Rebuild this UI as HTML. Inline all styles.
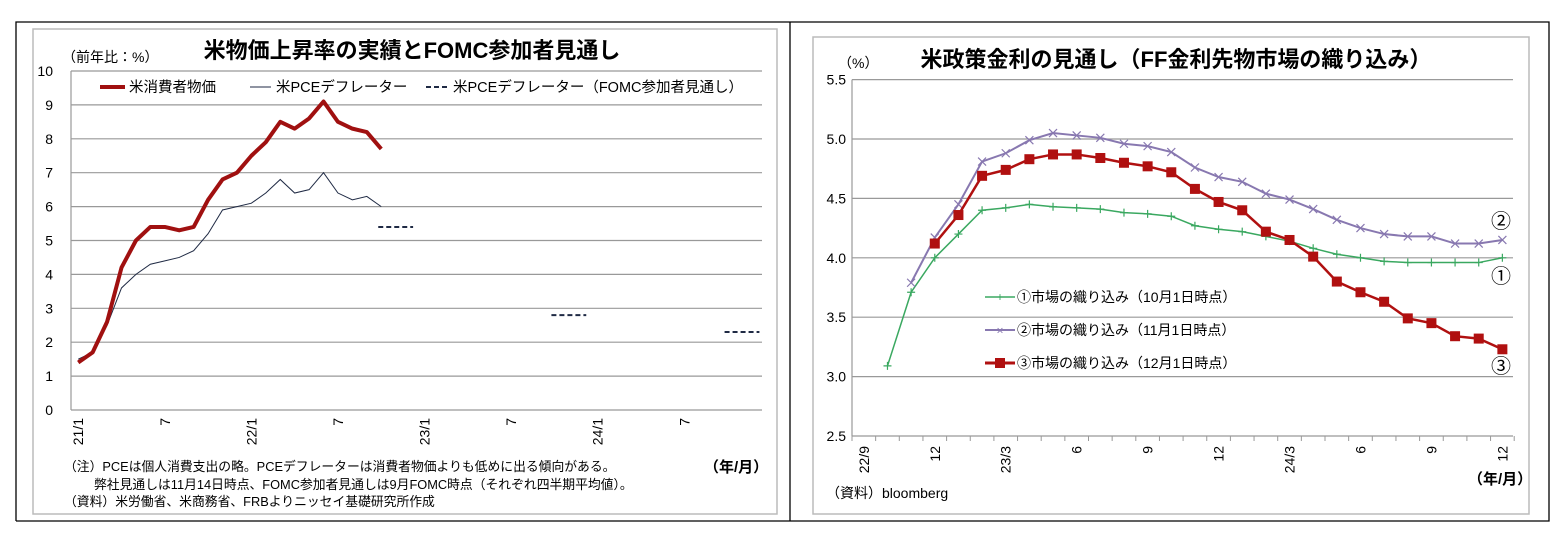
<!DOCTYPE html>
<html><head><meta charset="utf-8"><style>
body{margin:0;background:#fff}
svg{display:block;font-family:"Liberation Sans","Noto Sans CJK JP",sans-serif}
</style></head><body>
<svg id="s" width="1565" height="545" xmlns="http://www.w3.org/2000/svg">
<rect width="1565" height="545" fill="#fff"/>
<polyline points="16,521 16,22 1549,22 1549,521 16,521" fill="none" stroke="#000" stroke-width="1.3"/>
<line x1="790" y1="22" x2="790" y2="521" stroke="#000" stroke-width="1.3"/>
<rect x="33" y="29" width="744" height="485" fill="none" stroke="#bbb" stroke-width="1.5"/>
<rect x="813" y="37" width="716" height="477" fill="none" stroke="#bbb" stroke-width="1.5"/>

<g id="L"></g>
<text x="412" y="58" font-size="22" font-weight="bold" text-anchor="middle">米物価上昇率の実績とFOMC参加者見通し</text>
<text x="62" y="62" font-size="14">（前年比：%）</text>
<g font-size="14.5">
<line x1="100" y1="87" x2="125" y2="87" stroke="#a01010" stroke-width="4"/>
<text x="129" y="92">米消費者物価</text>
<line x1="250" y1="87" x2="271" y2="87" stroke="#1f2a44" stroke-width="1"/>
<text x="276" y="92">米PCEデフレーター</text>
<line x1="426" y1="87" x2="448" y2="87" stroke="#1f2a44" stroke-width="2" stroke-dasharray="5,3"/>
<text x="453" y="92">米PCEデフレーター（FOMC参加者見通し）</text>
</g>
<g font-size="12.8">
<text x="64" y="471">（注）PCEは個人消費支出の略。PCEデフレーターは消費者物価よりも低めに出る傾向がある。</text>
<text x="94" y="489">弊社見通しは11月14日時点、FOMC参加者見通しは9月FOMC時点（それぞれ四半期平均値）。</text>
<text x="64" y="506">（資料）米労働省、米商務省、FRBよりニッセイ基礎研究所作成</text>
</g>
<text x="704" y="472" font-size="15" font-weight="bold">（年/月）</text>

<g id="R"></g>
<text x="1176" y="67" font-size="22" font-weight="bold" text-anchor="middle">米政策金利の見通し（FF金利先物市場の織り込み）</text>
<text x="838" y="68" font-size="14">（%）</text>
<g font-size="14">
<line x1="985" y1="297" x2="1015" y2="297" stroke="#3aa860" stroke-width="1.5"/>
<text x="1000" y="301" font-size="12" text-anchor="middle" fill="#3aa860">+</text>
<text x="1017" y="302">①市場の織り込み（10月1日時点）</text>
<line x1="985" y1="330" x2="1015" y2="330" stroke="#8878b0" stroke-width="2"/>
<text x="1000" y="334.5" font-size="12" text-anchor="middle" fill="#8878b0">×</text>
<text x="1017" y="335">②市場の織り込み（11月1日時点）</text>
<line x1="985" y1="363" x2="1015" y2="363" stroke="#b01010" stroke-width="3"/>
<rect x="995" y="358" width="10" height="10" fill="#b01010"/>
<text x="1017" y="368">③市場の織り込み（12月1日時点）</text>
</g>
<g font-size="20" text-anchor="middle">
<text x="1501" y="228">②</text><text x="1501" y="283">①</text><text x="1501" y="373">③</text>
</g>
<text x="826" y="498" font-size="14">（資料）bloomberg</text>
<text x="1468" y="484" font-size="15" font-weight="bold">（年/月）</text>
</svg>
<script>
var NS="http://www.w3.org/2000/svg";
function el(p,t,a,txt){var e=document.createElementNS(NS,t);for(var k in a)e.setAttribute(k,a[k]);if(txt!=null)e.textContent=txt;p.appendChild(e);return e;}
var L=document.getElementById("L");
var lx0=71,lw=14.43,ly=function(v){return 410-v*33.9;},lxi=function(i){return lx0+lw*(i+0.5);};
for(var v=0;v<=10;v++){el(L,"line",{x1:lx0,x2:762,y1:ly(v),y2:ly(v),stroke:"#999","stroke-width":1.2});
el(L,"text",{x:53,y:ly(v)+5,"font-size":14,"text-anchor":"end"},String(v));}
el(L,"line",{x1:lx0,x2:lx0,y1:ly(10),y2:ly(0),stroke:"#999","stroke-width":1.2});
var labs={0:"21/1",6:"7",12:"22/1",18:"7",24:"23/1",30:"7",36:"24/1",42:"7"};
for(var i in labs){var x=lxi(+i)+5;el(L,"text",{x:0,y:0,"font-size":14,"text-anchor":"end",transform:"translate("+x+",418) rotate(-90)"},labs[i]);}
var cpi=[1.4,1.7,2.6,4.2,5.0,5.4,5.4,5.3,5.4,6.2,6.8,7.0,7.5,7.9,8.5,8.3,8.6,9.1,8.5,8.3,8.2,7.7];
var pce=[1.5,1.7,2.5,3.6,4.0,4.3,4.4,4.5,4.7,5.2,5.9,6.0,6.1,6.4,6.8,6.4,6.5,7.0,6.4,6.2,6.3,6.0];
function pts(a,fx,fy,s){return a.map(function(v,i){return fx(i+s)+","+fy(v)}).join(" ");}
el(L,"polyline",{points:pts(pce,lxi,ly,0),fill:"none",stroke:"#1f2a44","stroke-width":1});
el(L,"polyline",{points:pts(cpi,lxi,ly,0),fill:"none",stroke:"#a01010","stroke-width":4,"stroke-linejoin":"round"});
[[21,5.4],[33,2.8],[45,2.3]].forEach(function(q){el(L,"line",{x1:lxi(q[0])-3,x2:lxi(q[0]+2)+3,y1:ly(q[1]),y2:ly(q[1]),stroke:"#1f2a44","stroke-width":2,"stroke-dasharray":"5,3"});});
var R=document.getElementById("R");
var rx0=852,rw=23.65,ry=function(v){return 436-(v-2.5)*118.8;},rxi=function(i){return rx0+rw*(i+0.5);};
for(var k=0;k<=6;k++){var v=2.5+k*0.5;el(R,"line",{x1:rx0,x2:1513,y1:ry(v),y2:ry(v),stroke:"#999","stroke-width":1.2});
el(R,"text",{x:846,y:ry(v)+5,"font-size":14,"text-anchor":"end"},v.toFixed(1));}
el(R,"line",{x1:rx0,x2:rx0,y1:ry(5.5),y2:ry(2.5),stroke:"#999","stroke-width":1.2});
for(var i=0;i<=28;i++){var x=rx0+rw*i;el(R,"line",{x1:x,x2:x,y1:436,y2:441,stroke:"#999"});}
var rl={0:"22/9",3:"12",6:"23/3",9:"6",12:"9",15:"12",18:"24/3",21:"6",24:"9",27:"12"};
for(var i in rl){var x=rxi(+i)+5;el(R,"text",{x:0,y:0,"font-size":14,"text-anchor":"end",transform:"translate("+x+",446) rotate(-90)"},rl[i]);}
var s1=[3.09,3.71,4.00,4.20,4.40,4.42,4.45,4.43,4.42,4.41,4.38,4.37,4.35,4.27,4.24,4.22,4.18,4.14,4.08,4.03,4.00,3.97,3.96,3.96,3.96,3.96,4.00];
var s2=[3.79,4.17,4.45,4.81,4.88,4.99,5.05,5.03,5.01,4.96,4.94,4.89,4.76,4.68,4.64,4.54,4.49,4.41,4.32,4.25,4.20,4.18,4.18,4.12,4.12,4.15];
var s3=[4.12,4.36,4.69,4.74,4.83,4.87,4.87,4.84,4.80,4.77,4.72,4.58,4.47,4.40,4.22,4.15,4.01,3.80,3.71,3.63,3.49,3.45,3.34,3.32,3.23];
el(R,"polyline",{points:pts(s1,rxi,ry,1),fill:"none",stroke:"#3aa860","stroke-width":1.5});
s1.forEach(function(v,i){var x=rxi(i+1),y=ry(v);el(R,"path",{d:"M"+(x-4)+","+y+"h8M"+x+","+(y-4)+"v8",stroke:"#3aa860","stroke-width":1.2});});
el(R,"polyline",{points:pts(s2,rxi,ry,2),fill:"none",stroke:"#8878b0","stroke-width":2});
s2.forEach(function(v,i){var x=rxi(i+2),y=ry(v);el(R,"path",{d:"M"+(x-4)+","+(y-4)+"l8,8M"+(x-4)+","+(y+4)+"l8,-8",stroke:"#8878b0","stroke-width":1.2});});
el(R,"polyline",{points:pts(s3,rxi,ry,3),fill:"none",stroke:"#b01010","stroke-width":2.5});
s3.forEach(function(v,i){var x=rxi(i+3),y=ry(v);el(R,"rect",{x:x-5,y:y-5,width:10,height:10,fill:"#b01010"});});
</script>
</body></html>
